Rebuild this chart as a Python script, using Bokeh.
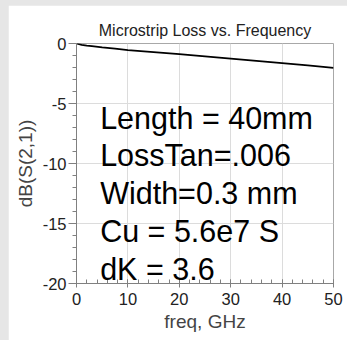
from bokeh.plotting import figure
from bokeh.models import Range1d, Label, FixedTicker, CustomJSTickFormatter
from bokeh.embed import file_html
from bokeh.resources import INLINE

# ---- data ----
freq_ghz = [0, 1, 2, 3, 5, 7.5, 10, 15, 20, 25, 30, 35, 40, 45, 50]
db_s21 = [0, -0.11, -0.17, -0.22, -0.32, -0.43, -0.55, -0.72, -0.89, -1.07,
          -1.26, -1.45, -1.64, -1.83, -2.03]
x_ticks = [0, 10, 20, 30, 40, 50]
y_ticks = [-20, -15, -10, -5, 0]
notes = ["Length = 40mm", "LossTan=.006", "Width=0.3 mm", "Cu = 5.6e7 S", "dK = 3.6"]
title_text = "Microstrip Loss vs. Frequency"
x_label = "freq, GHz"
y_label = "dB(S(2,1))"

FONT = "Liberation Sans"

p = figure(width=339, height=335, output_backend="svg", toolbar_location=None,
           x_range=Range1d(0, 50), y_range=Range1d(-20, 0),
           min_border_left=68, min_border_right=14, min_border_top=38,
           min_border_bottom=57, margin=(5, 0, 0, 8))
p.background_fill_color = "white"
p.border_fill_color = "white"
p.outline_line_color = "#a8a8a8"
p.outline_line_width = 1

p.title.text = title_text
p.title.align = "center"
p.title.text_font = FONT
p.title.text_font_size = "16px"
p.title.text_font_style = "normal"
p.title.text_color = "#222222"
p.title.standoff = 9

plain = CustomJSTickFormatter(code="return String(tick);")

# axes
xa = p.xaxis[0]
ya = p.yaxis[0]
xa.ticker = FixedTicker(ticks=x_ticks, minor_ticks=list(range(0, 51, 2)))
ya.ticker = FixedTicker(ticks=y_ticks, minor_ticks=list(range(-20, 1, 1)))
for ax in (xa, ya):
    ax.formatter = plain
    ax.axis_line_color = "#808080"
    ax.major_tick_line_color = "#808080"
    ax.minor_tick_line_color = "#808080"
    ax.major_label_text_font = FONT
    ax.major_label_text_font_size = "16.5px"
    ax.major_label_text_color = "#222222"
    ax.axis_label_text_font = FONT
    ax.axis_label_text_font_size = "19px"
    ax.axis_label_text_font_style = "normal"
    ax.axis_label_text_color = "#444444"

xa.axis_label = x_label
ya.axis_label = y_label
xa.major_tick_in = 4
xa.major_tick_out = 4
xa.minor_tick_in = 4
xa.minor_tick_out = 0
xa.major_label_standoff = 5
xa.axis_label_standoff = 3
ya.major_tick_in = 0
ya.major_tick_out = 8
ya.minor_tick_in = 0
ya.minor_tick_out = 4
ya.major_label_standoff = 2
ya.axis_label_standoff = 4

p.xgrid.grid_line_color = "#dcdcdc"
p.ygrid.grid_line_color = "#dcdcdc"
p.xgrid.ticker = FixedTicker(ticks=x_ticks)
p.ygrid.ticker = FixedTicker(ticks=y_ticks)

p.line(freq_ghz, db_s21, line_color="black", line_width=1.8)

# annotation text
y0 = -6.17
step = -3.16
for i, t in enumerate(notes):
    p.add_layout(Label(x=4.6, y=y0 + i * step, text=t, text_font=FONT,
                       text_font_size="30.5px", text_color="black",
                       text_baseline="alphabetic", text_align="left"))

p.add_layout(Label(x=-51, y=236, x_units="screen", y_units="screen", text="ADS",
                   text_font=FONT, text_font_size="7px", text_color="#a8a8a8",
                   text_baseline="middle", text_align="center", level="overlay"))

html = file_html(p, INLINE)
style = "<style>html, body { margin: 0; background-color: #e6e6e6 !important; }</style>"
if "</head>" in html:
    html = html.replace("</head>", style + "</head>", 1)
else:
    html = style + html
open("out.html", "w").write(html)
